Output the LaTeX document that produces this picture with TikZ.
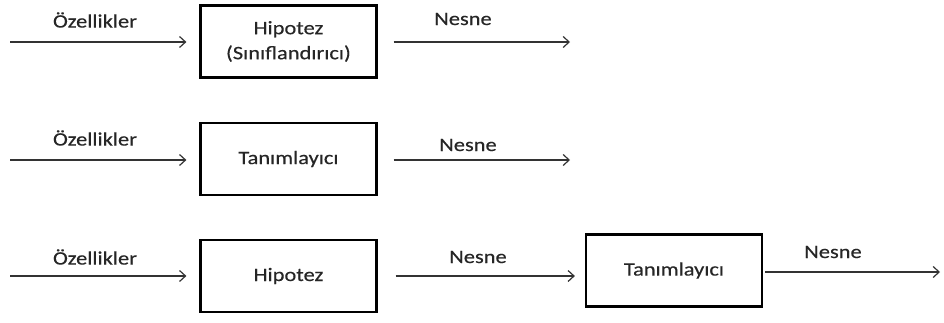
\documentclass[tikz,border=0pt]{standalone}
\usepackage{fontspec}
\setmainfont{Carlito}[FakeStretch=1.18,FakeBold=0.4]
\usetikzlibrary{arrows.meta}
\begin{document}
\begin{tikzpicture}[x=1pt,y=-1pt,
  blk/.style={draw=black,line width=2.2pt,minimum width=176pt,minimum height=72pt,inner sep=0pt,align=center,font=\fontsize{19}{25}\selectfont,text=black!85},
  lbl/.style={font=\fontsize{19}{22}\selectfont,inner sep=0pt,text=black!85},
  flow/.style={draw=black!80,line width=1.2pt,-{Straight Barb[length=6pt,width=11pt,line width=1.2pt]}}]
\useasboundingbox (0,0) rectangle (944,323);
% Row 1
\node[blk] (h1) at (288.5,41.5) {Hipotez\\(Sınıflandırıcı)};
\coordinate (i1) at (10,42);
\coordinate (o1) at (570,42);
\draw[flow] (i1) -- ([xshift=-13pt]h1.west|-i1);
\draw[flow] ([xshift=16pt]h1.east|-o1) -- (o1);
\node[lbl] (f1) at (95,20) {Özellikler};
\node[lbl] (n1) at (463,19) {Nesne};
% Row 2
\node[blk] (t2) at (288.5,159) {Tanımlayıcı};
\coordinate (i2) at (10,160);
\coordinate (o2) at (570,160);
\draw[flow] (i2) -- ([xshift=-13pt]t2.west|-i2);
\draw[flow] ([xshift=16pt]t2.east|-o2) -- (o2);
\node[lbl] (f2) at (95,138) {Özellikler};
\node[lbl] (n2) at (468,145) {Nesne};
% Row 3
\node[blk] (h3) at (288.5,276) {Hipotez};
\node[blk] (t3) at (674,270.5) {Tanımlayıcı};
\coordinate (i3) at (10,276);
\coordinate (o3) at (940,272);
\draw[flow] (i3) -- ([xshift=-13pt]h3.west|-i3);
\draw[flow] ([xshift=18pt]h3.east) -- ([xshift=-10pt]t3.west|-h3.east);
\draw[flow] ([xshift=2pt]t3.east|-o3) -- (o3);
\node[lbl] (f3) at (95,257) {Özellikler};
\node[lbl] (n3) at (478,257) {Nesne};
\node[lbl] (n4) at (833,252) {Nesne};
\end{tikzpicture}
\end{document}
